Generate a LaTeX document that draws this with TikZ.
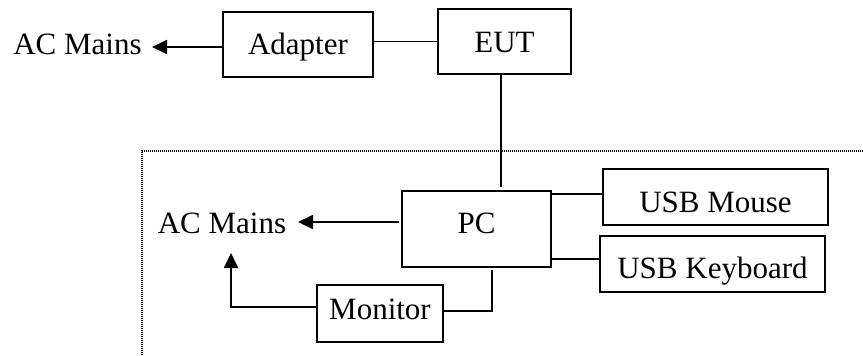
\documentclass[tikz,border=0pt]{standalone}
\usepackage{fontspec}
\setmainfont{Liberation Serif}
\usetikzlibrary{arrows.meta}
\begin{document}
\begin{tikzpicture}[x=1pt,y=-1pt,
  font=\fontsize{31}{37}\selectfont,
  blk/.style={draw,line width=1.8pt,inner sep=0pt,anchor=center,text height=21pt,text depth=0pt},
  conn/.style={line width=1.8pt},
  arr/.style={line width=1.8pt,-{Triangle[length=15pt,width=14pt]}},
  lbl/.style={inner sep=0pt,anchor=base}]
\useasboundingbox (0,0) rectangle (863,356);
% dotted boundary
\draw[line width=1.1pt,dash pattern=on 1pt off 1pt] (863,151) -| (142,356);
% blocks
\node[blk,minimum width=150pt,minimum height=65pt] (ad) at (298,44.5) {\raisebox{1pt}{Adapter}};
\node[blk,minimum width=133pt,minimum height=65pt] (eut) at (504.5,41.5) {\raisebox{-1pt}{EUT}};
\node[blk,minimum width=149pt,minimum height=76pt] (pc) at (476.5,229) {\raisebox{6pt}{PC}};
\node[blk,minimum width=225pt,minimum height=56pt] (mouse) at (715.5,197) {\raisebox{-4.5pt}{USB Mouse}};
\node[blk,minimum width=225pt,minimum height=56pt] (kb) at (712.5,264) {\raisebox{-3.5pt}{USB Keyboard}};
\node[blk,minimum width=126pt,minimum height=57pt] (mon) at (380,313.5) {\raisebox{4.5pt}{Monitor}};
% labels
\node[lbl] (ac1) at (77.5,54) {AC Mains};
\node[lbl] (ac2) at (222,233) {AC Mains};
% arrow tips
\coordinate (t1) at (152,47);
\coordinate (t2) at (298,222);
\coordinate (t3) at (231,253);
% connectors
\draw[arr] (ad.west |- t1) -- (t1);
\draw[conn] (ad.east |- eut.west) -- (eut.west);
\draw[conn] ([xshift=-3.5pt]eut.south) -- ([xshift=-3.5pt,yshift=3pt]eut.south |- pc.north);
\draw[arr] ([xshift=-2pt]pc.west |- t2) -- (t2);
\draw[conn] ([yshift=3pt]mouse.west -| pc.east) -- ([yshift=3pt]mouse.west);
\draw[conn] ([yshift=5pt]kb.west -| pc.east) -- ([yshift=5pt]kb.west);
\draw[arr] ([yshift=6.5pt]mon.west) -| (t3);
\draw[conn] ([yshift=2.5pt]mon.east) -| ([xshift=15.5pt,yshift=-2pt]pc.south);
\end{tikzpicture}
\end{document}
